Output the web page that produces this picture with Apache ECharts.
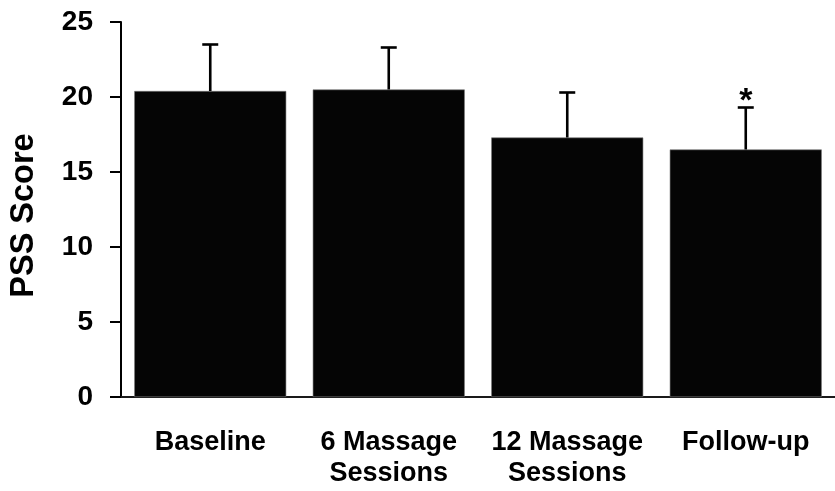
<!DOCTYPE html>
<html>
<head>
<meta charset="utf-8">
<script src="https://cdn.jsdelivr.net/npm/echarts@6/dist/echarts.min.js"></script>
<style>
  html, body { margin: 0; padding: 0; background: #fff; }
  #chart { width: 835px; height: 491px; }
</style>
</head>
<body>
<div id="chart"></div>
<script>
// PSS scores across the massage study time points
const categories = ['Baseline', '6 Massage\nSessions', '12 Massage\nSessions', 'Follow-up'];
const meanScores = [20.4, 20.5, 17.3, 16.5];
const sdScores = [3.1, 2.8, 3.0, 2.8];
const significant = [false, false, false, true];
const yTicks = [0, 5, 10, 15, 20, 25];

const FONT = '"Liberation Sans", Arial, Helvetica, sans-serif';

const errorData = categories.map((c, i) => [i, meanScores[i], meanScores[i] + sdScores[i], significant[i] ? 1 : 0]);

const chart = echarts.init(document.getElementById('chart'));

chart.setOption({
  animation: false,
  backgroundColor: '#ffffff',
  grid: { left: 119, top: 22, bottom: 94, width: 723, containLabel: false },
  xAxis: {
    type: 'category',
    data: categories,
    axisLine: { show: true, lineStyle: { color: '#1a1a1a', width: 2 } },
    axisTick: { show: false },
    axisLabel: {
      margin: 30,
      color: '#000',
      fontFamily: FONT,
      fontWeight: 'bold',
      fontSize: 27,
      lineHeight: 31,
      interval: 0
    },
    splitLine: { show: false }
  },
  yAxis: {
    type: 'value',
    min: yTicks[0],
    max: yTicks[yTicks.length - 1],
    interval: 5,
    name: 'PSS Score',
    nameLocation: 'middle',
    nameGap: 80,
    nameTextStyle: {
      color: '#000',
      fontFamily: FONT,
      fontWeight: 'bold',
      fontSize: 32.5,
      padding: [0, 12, 0, 0]
    },
    axisLine: { show: true, lineStyle: { color: '#000', width: 2 } },
    axisTick: { show: true, inside: false, length: 11, lineStyle: { color: '#000', width: 2 } },
    axisLabel: {
      margin: 28,
      color: '#000',
      fontFamily: FONT,
      fontWeight: 'bold',
      fontSize: 28
    },
    splitLine: { show: false }
  },
  series: [
    {
      type: 'bar',
      data: meanScores,
      barWidth: 152,
      itemStyle: { color: '#050505', borderColor: '#777', borderWidth: 0.6 },
      z: 2
    },
    {
      // SD whiskers with caps, plus significance marker
      type: 'custom',
      data: errorData,
      z: 3,
      renderItem: function (params, api) {
        const x = api.value(0);
        const base = api.coord([x, api.value(1)]);
        const top = api.coord([x, api.value(2)]);
        const capHalf = 8;
        const children = [
          {
            type: 'line',
            shape: { x1: base[0], y1: base[1], x2: top[0], y2: top[1] },
            style: { stroke: '#000', lineWidth: 2.6 }
          },
          {
            type: 'line',
            shape: { x1: top[0] - capHalf, y1: top[1], x2: top[0] + capHalf, y2: top[1] },
            style: { stroke: '#000', lineWidth: 2.6 }
          }
        ];
        if (api.value(3) === 1) {
          children.push({
            type: 'text',
            style: {
              text: '*',
              x: top[0],
              y: top[1] - 6,
              align: 'center',
              verticalAlign: 'middle',
              fill: '#000',
              font: 'bold 34px ' + FONT
            }
          });
        }
        return { type: 'group', children: children };
      }
    }
  ]
});
</script>
</body>
</html>
